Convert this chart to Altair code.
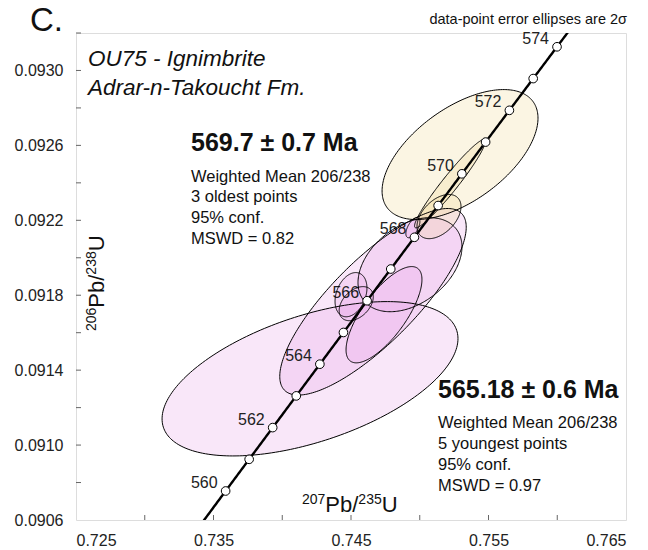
import altair as alt
import numpy as np
import pandas as pd

# U decay constants (1/yr)
LAMBDA_238 = 1.55125e-10
LAMBDA_235 = 9.8485e-10

# Concordia age markers (Ma) and the labelled ones
marker_ages = [560, 561, 562, 563, 564, 565, 566, 567, 568, 569, 570, 571, 572, 573, 574]
label_ages = [560, 562, 564, 566, 568, 570, 572, 574]

# Zircon analyses: 207Pb/235U, 2s, 206Pb/238U, 2s, error correlation, group
pb207_u235 = [0.74202, 0.74660, 0.74929, 0.74740, 0.74500, 0.74538, 0.74950, 0.75293, 0.75220, 0.75140]
pb207_err  = [0.01076, 0.00678, 0.00378, 0.00276, 0.00116, 0.00124, 0.00051, 0.00567, 0.00258, 0.00160]
pb206_u238 = [0.091354, 0.091765, 0.091963, 0.091696, 0.091803, 0.091755, 0.092161, 0.092551, 0.092396, 0.092220]
pb206_err  = [0.000412, 0.000498, 0.000251, 0.000257, 0.000118, 0.000091, 0.000054, 0.000347, 0.000236, 0.000118]
err_corr   = [0.52, 0.80, 0.38, 0.73, 0.30, 0.40, 0.60, 0.56, 0.96, 0.45]
group      = ["young", "young", "young", "young", "young", "young", "young", "old", "old", "old"]

x_ticks = [0.725, 0.735, 0.745, 0.755, 0.765]
y_ticks = [0.0906, 0.0910, 0.0914, 0.0918, 0.0922, 0.0926, 0.0930]
x_minor = [0.730, 0.735, 0.740, 0.745, 0.750, 0.755, 0.760]
y_minor = [0.0908, 0.0910, 0.0912, 0.0914, 0.0916, 0.0918, 0.0920, 0.0922,
           0.0924, 0.0926, 0.0928, 0.0930, 0.0932]

W, H = 550, 487
FONT = "Liberation Sans"

# ---- ellipse outlines and fills -------------------------------------------
fill_rows, line_rows = [], []
half = np.linspace(0, np.pi, 121)
full = np.linspace(0, 2 * np.pi, 241)
for i, (x0, sx, y0, sy, r, g) in enumerate(
        zip(pb207_u235, pb207_err, pb206_u238, pb206_err, err_corr, group)):
    s = np.sqrt(1 - r * r)
    for t in half:
        fill_rows.append(dict(id=i, group=g, x=x0 + sx * np.cos(t),
                              y_hi=y0 + sy * (r * np.cos(t) + s * np.sin(t)),
                              y_lo=y0 + sy * (r * np.cos(t) - s * np.sin(t))))
    for k, t in enumerate(full):
        line_rows.append(dict(id=i, k=k, x=x0 + sx * np.cos(t),
                              y=y0 + sy * (r * np.cos(t) + s * np.sin(t))))
fill_df = pd.DataFrame(fill_rows)
line_df = pd.DataFrame(line_rows)

# ---- concordia --------------------------------------------------------------
def concordia(age_ma):
    t = np.asarray(age_ma, dtype=float) * 1e6
    return np.exp(LAMBDA_235 * t) - 1, np.exp(LAMBDA_238 * t) - 1

curve_ages = np.arange(555.0, 580.0, 0.05)
cx, cy = concordia(curve_ages)
curve_df = pd.DataFrame({"x": cx, "y": cy, "age": curve_ages})
mx, my = concordia(marker_ages)
marker_df = pd.DataFrame({"x": mx, "y": my, "age": marker_ages})
lx, ly = concordia(label_ages)
label_df = pd.DataFrame({"x": lx, "y": ly, "age": [str(a) for a in label_ages]})

xs = alt.Scale(domain=[0.725, 0.765], nice=False, zero=False)
ys = alt.Scale(domain=[0.0906, 0.09320], nice=False, zero=False)

x_axis = alt.Axis(values=x_ticks, format=".3f", ticks=False, domain=False, grid=False,
                  labelFontSize=16, labelPadding=12, labelColor="#222", title=None)
y_axis = alt.Axis(values=y_ticks, format=".4f", ticks=False, domain=False, grid=False,
                  labelFontSize=16, labelPadding=13, labelColor="#222", title=None)

fills = alt.Chart(fill_df).mark_area(opacity=0.25).encode(
    x=alt.X("x:Q", scale=xs, axis=x_axis),
    y=alt.Y("y_hi:Q", scale=ys, axis=y_axis, stack=None),
    y2="y_lo:Q",
    detail="id:N",
    color=alt.Color("group:N", scale=alt.Scale(domain=["young", "old"],
                                               range=["#e8a0e8", "#f0d890"]), legend=None),
)

age_labels = alt.Chart(label_df).mark_text(align="right", baseline="middle", dx=-8, dy=-8,
                                           fontSize=16, color="#222").encode(
    x=alt.X("x:Q", scale=xs), y=alt.Y("y:Q", scale=ys), text="age:N")

outlines = alt.Chart(line_df).mark_line(color="black", strokeWidth=1).encode(
    x=alt.X("x:Q", scale=xs), y=alt.Y("y:Q", scale=ys),
    detail="id:N", order="k:Q")

curve = alt.Chart(curve_df).mark_line(color="black", strokeWidth=2.4, clip=True).encode(
    x=alt.X("x:Q", scale=xs), y=alt.Y("y:Q", scale=ys), order="age:Q")

markers = alt.Chart(marker_df).mark_circle(color="white", stroke="black", strokeWidth=1,
                                           size=75, opacity=1).encode(
    x=alt.X("x:Q", scale=xs), y=alt.Y("y:Q", scale=ys))

# inward tick marks
xt = alt.Chart(pd.DataFrame({"v": x_minor})).mark_rule(color="#666").encode(
    x=alt.X("v:Q", scale=xs), y=alt.value(H), y2=alt.value(H - 5))
yt = alt.Chart(pd.DataFrame({"v": y_minor})).mark_rule(color="#666").encode(
    y=alt.Y("v:Q", scale=ys), x=alt.value(0), x2=alt.value(5))


def note(text, x, y, size=16, weight="normal", style="normal", align="left", angle=0,
         baseline="alphabetic"):
    return alt.Chart(pd.DataFrame({"t": [text]})).mark_text(
        align=align, baseline=baseline, fontSize=size, fontWeight=weight,
        fontStyle=style, angle=angle, color="#111").encode(
        x=alt.value(x), y=alt.value(y), text="t:N")


# axis titles built from main text and raised isotope numbers
SUP, BIG = 14, 22
sup_w = 3 * 0.556 * SUP
pb_w = 1.501 * BIG


def isotope_title(sup1, sup2, x, y, vertical=False):
    parts = [(sup1, SUP, True), ("Pb/", BIG, False), (sup2, SUP, True), ("U", BIG, False)]
    widths = [sup_w, pb_w, sup_w, 0]
    out, pos = [], 0.0
    for (txt, size, raised), w in zip(parts, widths):
        if vertical:
            out.append(note(txt, x - (8 if raised else 0), y - pos, size=size, angle=270))
        else:
            out.append(note(txt, x + pos, y - (8 if raised else 0), size=size))
        pos += w
    return out


notes = [
    note("C.", -46, -2, size=33),
    note("data-point error ellipses are 2σ", 551, -9, size=14.5, align="right"),
    note("OU75 - Ignimbrite", 12, 33, size=22.5, style="italic"),
    note("Adrar-n-Takoucht Fm.", 12, 62, size=22.5, style="italic"),
    note("569.7 ± 0.7 Ma", 115, 118, size=25, weight="bold"),
    note("Weighted Mean 206/238", 115, 149, size=16.5),
    note("3 oldest points", 115, 169, size=16.5),
    note("95% conf.", 115, 190, size=16.5),
    note("MSWD = 0.82", 115, 211, size=16.5),
    note("565.18 ± 0.6 Ma", 362, 365, size=25, weight="bold"),
    note("Weighted Mean 206/238", 362, 395, size=16.5),
    note("5 youngest points", 362, 416, size=16.5),
    note("95% conf.", 362, 437, size=16.5),
    note("MSWD = 0.97", 362, 458, size=16.5),
] + isotope_title("207", "235", 226, 479) + isotope_title("206", "238", 28, 298, vertical=True)

chart = alt.layer(fills, age_labels, outlines, curve, markers, xt, yt, *notes).properties(
    width=W, height=H,
    autosize=alt.AutoSizeParams(type="none"),
    padding={"left": 76, "top": 33, "right": 22, "bottom": 30},
    background="white",
).configure_view(stroke="#444", strokeWidth=1, fill="#f4f4f4").configure(font=FONT)

chart.save("out.html", embed_options={"renderer": "svg", "actions": False})
